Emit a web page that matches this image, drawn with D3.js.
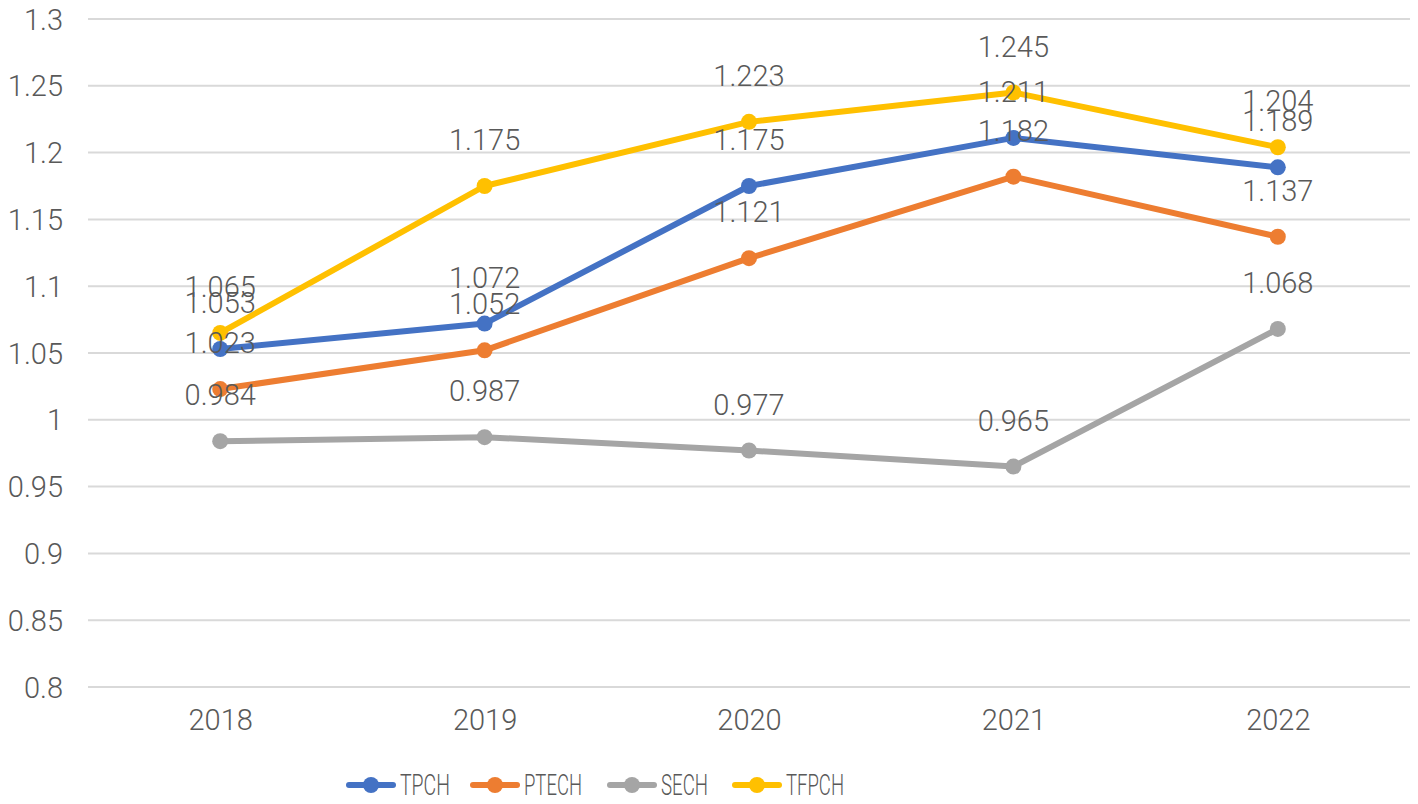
<!DOCTYPE html>
<html>
<head>
<meta charset="utf-8">
<script src="https://cdn.jsdelivr.net/npm/d3@7"></script>
<style>
  body { margin: 0; background: #fff; }
  text { font-family: "Roboto", "Noto Sans CJK SC", sans-serif; font-weight: 300; fill: #595959; }
</style>
</head>
<body>
<svg id="chart" width="1418" height="804"></svg>
<script>
const years = ["2018", "2019", "2020", "2021", "2022"];
const tpch = [1.053, 1.072, 1.175, 1.211, 1.189];
const ptech = [1.023, 1.052, 1.121, 1.182, 1.137];
const sech = [0.984, 0.987, 0.977, 0.965, 1.068];
const tfpch = [1.065, 1.175, 1.223, 1.245, 1.204];
const yTicks = [0.8, 0.85, 0.9, 0.95, 1, 1.05, 1.1, 1.15, 1.2, 1.25, 1.3];

const series = [
  { name: "TPCH", values: tpch, color: "#4472C4" },
  { name: "PTECH", values: ptech, color: "#ED7D31" },
  { name: "SECH", values: sech, color: "#A5A5A5" },
  { name: "TFPCH", values: tfpch, color: "#FFC000" }
];

const svg = d3.select("#chart");
const SIZE = { left: 88, right: 1410, top: 19, bottom: 687 };
const FONT = 29;

const x = d3.scalePoint()
  .domain(years)
  .range([SIZE.left, SIZE.right])
  .padding(0.5);

const y = d3.scaleLinear()
  .domain([0.8, 1.3])
  .range([SIZE.bottom, SIZE.top]);

// grid
svg.append("g")
  .selectAll("line")
  .data(yTicks)
  .join("line")
  .attr("x1", SIZE.left)
  .attr("x2", SIZE.right)
  .attr("y1", d => y(d))
  .attr("y2", d => y(d))
  .attr("stroke", "#d9d9d9")
  .attr("stroke-width", 2);

// y axis labels
const yAxis = svg.append("g")
  .attr("transform", `translate(${SIZE.left - 25},0)`)
  .call(d3.axisLeft(y).tickValues(yTicks).tickFormat(d => String(+d.toFixed(2))).tickSize(0).tickPadding(0));
yAxis.select(".domain").remove();
yAxis.selectAll("text")
  .attr("font-size", FONT)
  .attr("dy", "0.35em")
  .attr("fill", "#595959");

// x axis labels
const xAxis = svg.append("g")
  .attr("transform", `translate(0,${SIZE.bottom + 33})`)
  .call(d3.axisBottom(x).tickSize(0).tickPadding(0));
xAxis.select(".domain").remove();
xAxis.selectAll("text")
  .attr("font-size", FONT)
  .attr("y", 0)
  .attr("dy", "0.35em")
  .attr("fill", "#595959");
svg.selectAll("g").attr("font-family", null);

const line = d3.line()
  .x((d, i) => x(years[i]))
  .y(d => y(d));

series.forEach(s => {
  const g = svg.append("g");
  g.append("path")
    .attr("d", line(s.values))
    .attr("fill", "none")
    .attr("stroke", s.color)
    .attr("stroke-width", 6)
    .attr("stroke-linejoin", "round")
    .attr("stroke-linecap", "round");
  g.selectAll("circle")
    .data(s.values)
    .join("circle")
    .attr("cx", (d, i) => x(years[i]))
    .attr("cy", d => y(d))
    .attr("r", 8)
    .attr("fill", s.color);
});

// data labels drawn last, above everything
series.forEach(s => {
  svg.append("g")
    .selectAll("text")
    .data(s.values)
    .join("text")
    .attr("x", (d, i) => x(years[i]))
    .attr("y", d => y(d) - 46)
    .attr("dy", "0.35em")
    .attr("text-anchor", "middle")
    .attr("font-size", FONT)
    .text(d => d.toFixed(3));
});

// legend (narrow lettering like the original)
const legendItems = [
  { x: 346, w: 50, ...series[0] },
  { x: 470, w: 58, ...series[1] },
  { x: 607, w: 47, ...series[2] },
  { x: 732, w: 58, ...series[3] }
];
const legend = svg.append("g").attr("transform", "translate(0,785)");
legendItems.forEach(item => {
  legend.append("line")
    .attr("x1", item.x + 3).attr("x2", item.x + 47)
    .attr("stroke", item.color)
    .attr("stroke-width", 6)
    .attr("stroke-linecap", "round");
  legend.append("circle")
    .attr("cx", item.x + 25).attr("r", 8)
    .attr("fill", item.color);
  legend.append("text")
    .attr("x", item.x + 54)
    .attr("dy", "0.35em")
    .attr("font-size", FONT)
    .attr("textLength", item.w)
    .attr("lengthAdjust", "spacingAndGlyphs")
    .text(item.name);
});
</script>
</body>
</html>
